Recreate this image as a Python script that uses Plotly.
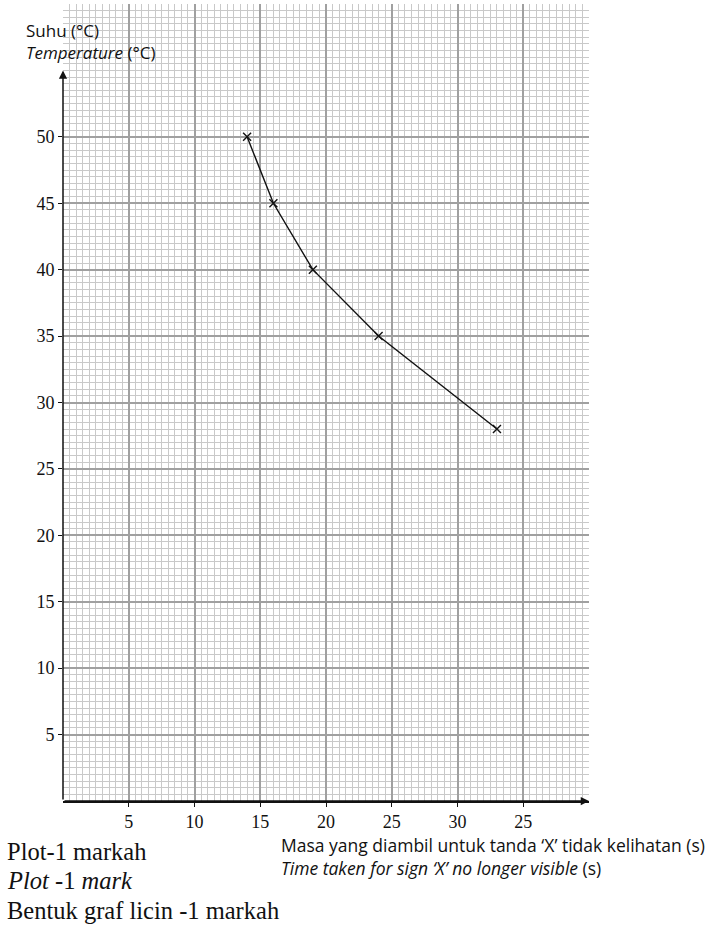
import plotly.graph_objects as go

# Data
time_s = [14, 16, 19, 24, 33]
temp_c = [50, 45, 40, 35, 28]

x_tickvals = [5, 10, 15, 20, 25, 30, 35]
x_ticktext = ["5", "10", "15", "20", "25", "30", "25"]
y_tickvals = [5, 10, 15, 20, 25, 30, 35, 40, 45, 50]
y_ticktext = ["5", "10", "15", "20", "25", "30", "35", "40", "45", "50"]

X_MAX, Y_MAX = 40, 60
Y_ARROW = 55

MAJOR = "#a0a0a0"
MEDIUM = "#bcbcbc"
MINOR = "#c9c9c9"
SANS = "'Open Sans', 'Noto Sans', sans-serif"
SERIF = "'Liberation Serif', 'Times New Roman', serif"

fig = go.Figure()
fig.add_trace(go.Scatter(
    x=time_s, y=temp_c, mode="lines+markers",
    line=dict(color="#111111", width=1.4),
    marker=dict(symbol="x-thin", size=8, line=dict(color="#111111", width=1.4)),
    showlegend=False, hoverinfo="skip",
))

fig.update_layout(
    width=724, height=925,
    margin=dict(l=63, r=135, t=4, b=124),
    paper_bgcolor="white", plot_bgcolor="white",
    xaxis=dict(
        range=[0, X_MAX], tickvals=x_tickvals, ticktext=x_ticktext,
        showgrid=True, gridcolor=MAJOR, gridwidth=1.5,
        minor=dict(dtick=0.5, tick0=0, showgrid=True, gridcolor=MINOR, gridwidth=1, ticks=""),
        zeroline=False, showline=True, linecolor="#111111", linewidth=1.5,
        ticks="outside", ticklen=4, tickwidth=1.3, tickcolor="#111111",
        tickfont=dict(family=SERIF, size=18, color="#111111"),
        fixedrange=True,
    ),
    yaxis=dict(
        range=[0, Y_MAX], tickvals=y_tickvals, ticktext=y_ticktext,
        showgrid=True, gridcolor=MAJOR, gridwidth=1.5,
        minor=dict(dtick=0.5, tick0=0, showgrid=True, gridcolor=MINOR, gridwidth=1, ticks=""),
        zeroline=False, showline=False,
        ticks="outside", ticklen=4, tickwidth=1.3, tickcolor="#111111",
        tickfont=dict(family=SERIF, size=18, color="#111111"),
        fixedrange=True,
    ),
    xaxis2=dict(
        overlaying="x", anchor="y2", range=[0, X_MAX],
        tickvals=[v + 2.5 for v in range(0, X_MAX, 5)],
        showgrid=True, gridcolor=MEDIUM, gridwidth=1.1,
        showticklabels=False, ticks="", zeroline=False, showline=False,
    ),
    yaxis2=dict(
        overlaying="y", anchor="x2", range=[0, Y_MAX],
        tickvals=[v + 2.5 for v in range(0, Y_MAX, 5)],
        showgrid=True, gridcolor=MEDIUM, gridwidth=1.1,
        showticklabels=False, ticks="", zeroline=False, showline=False,
    ),
)

# axis arrows
fig.add_annotation(x=0, y=Y_ARROW, ax=0, ay=0, xref="x", yref="y", axref="x", ayref="y",
                   text="", showarrow=True, arrowhead=2, arrowsize=1.1, arrowwidth=1.5,
                   arrowcolor="#111111")
fig.add_annotation(x=X_MAX, y=0, ax=0, ay=0, xref="x", yref="y", axref="x", ayref="y",
                   text="", showarrow=True, arrowhead=2, arrowsize=1.1, arrowwidth=1.5,
                   arrowcolor="#111111")

def px_x(p):
    return (p - 63) / 526

def px_y(p):
    return (801 - p) / 797

def txt(text, x, y, family, size, pad=1):
    fig.add_annotation(text=text, x=px_x(x), y=px_y(y), xref="paper", yref="paper",
                       xanchor="left", yanchor="middle", align="left", showarrow=False,
                       borderpad=pad,
                       font=dict(family=family, size=size, color="#111111"))

txt("Suhu (°C)", 24, 31, SANS, 17)
txt("<i>Temperature</i> (°C)", 24, 53, SANS, 17)
txt("Masa yang diambil untuk tanda ‘X’ tidak kelihatan (s)<br>"
    "<i>Time taken for sign ‘X’ no longer visible</i> (s)", 280, 856, SANS, 17.5, pad=0)
txt("Plot-1 markah", 5, 851, SERIF, 24.5)
txt("<i>Plot</i> -1 <i>mark</i>", 5, 881, SERIF, 24.5)
txt("Bentuk graf licin -1 markah", 5, 910, SERIF, 24.5)

fig.write_html("out.html", config={"displayModeBar": False},
               post_script="document.body.style.margin='0px';document.body.style.padding='0px';")
